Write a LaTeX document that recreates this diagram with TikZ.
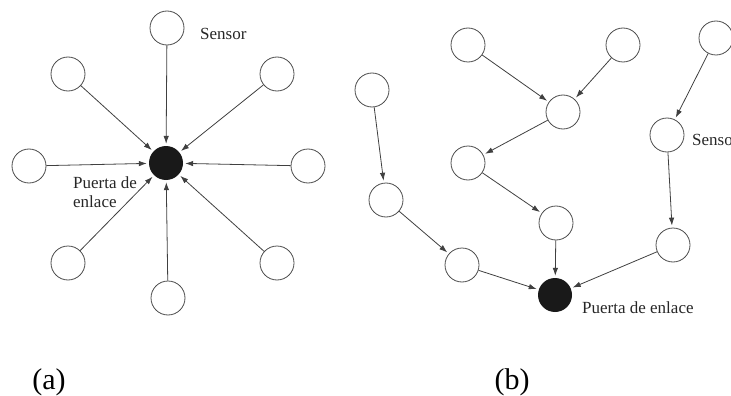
\documentclass[tikz,border=0pt]{standalone}
\usepackage{fontspec}
\setmainfont{Liberation Serif}
\usetikzlibrary{arrows.meta}
\begin{document}
\begin{tikzpicture}[x=1pt,y=-1pt,
  sensor/.style={circle,draw=black!70,line width=0.8pt,minimum size=34pt,inner sep=0pt},
  gateway/.style={circle,fill=black!90,minimum size=34pt,inner sep=0pt},
  link/.style={draw=black!75,line width=0.8pt,-{Latex[length=8pt,width=5.5pt]},shorten >=2pt},
  lbl/.style={font=\fontsize{17}{19}\selectfont,text=black!85,inner sep=0pt},
  captext/.style={font=\fontsize{30}{32}\selectfont,inner sep=0pt}]
\useasboundingbox (0,0) rectangle (731,396);

% (a) star topology
\node[gateway] (g1) at (166,163) {};
\node[sensor] (a1) at (167,28) {};
\node[sensor] (a2) at (277,74) {};
\node[sensor] (a3) at (308,166) {};
\node[sensor] (a4) at (277,263) {};
\node[sensor] (a5) at (168,298) {};
\node[sensor] (a6) at (68,263) {};
\node[sensor] (a7) at (29,166) {};
\node[sensor] (a8) at (68,74) {};
\foreach \s in {a1,a2,a3,a4,a5,a6,a7,a8} \draw[link] (\s) -- (g1);
\node[lbl,anchor=base west] (sa) at (200,40) {Sensor};
\node[lbl,anchor=base west] (pa1) at (73,188) {Puerta de};
\node[lbl,anchor=base west] (pa2) at (73,207) {enlace};

% (b) multi-hop topology
\node[gateway] (g2) at (555,295) {};
\node[sensor] (b1) at (468,45) {};
\node[sensor] (b2) at (623,45) {};
\node[sensor] (b3) at (716,38) {};
\node[sensor] (b4) at (372,90) {};
\node[sensor] (b5) at (563,112) {};
\node[sensor] (b6) at (667,135) {};
\node[sensor] (b7) at (468,163) {};
\node[sensor] (b8) at (386,200) {};
\node[sensor] (b9) at (556,223) {};
\node[sensor] (b10) at (673,245) {};
\node[sensor] (b11) at (462,265) {};
\draw[link] (b1) -- (b5);
\draw[link] (b2) -- (b5);
\draw[link] (b5) -- (b7);
\draw[link] (b7) -- (b9);
\draw[link] (b9) -- (g2);
\draw[link] (b3) -- (b6);
\draw[link] (b6) -- (b10);
\draw[link] (b10) -- (g2);
\draw[link] (b4) -- (b8);
\draw[link] (b8) -- (b11);
\draw[link] (b11) -- (g2);
\node[lbl,anchor=base west] (sb) at (692,145) {Sensor};
\node[lbl,anchor=base west] (pb) at (582,313) {Puerta de enlace};

% captions
\node[captext] (ca) at (49,382) {(a)};
\node[captext] (cb) at (512,382) {(b)};
\end{tikzpicture}
\end{document}
